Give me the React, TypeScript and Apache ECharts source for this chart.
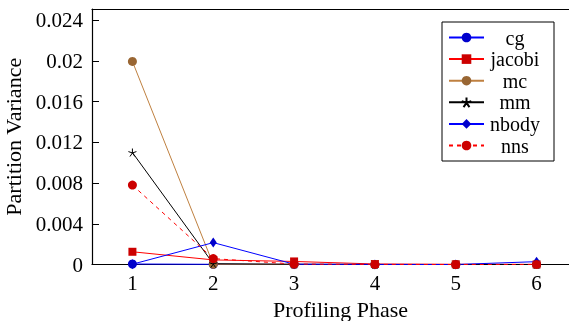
import React, { useEffect, useRef } from "react";
import * as echarts from "echarts";

const phases = ["1", "2", "3", "4", "5", "6"];
const seriesNames = ["cg", "jacobi", "mc", "mm", "nbody", "nns"];
const cg = [0.00005, 0.00002, 0.00001, 0, 0, 0];
const jacobi = [0.00125, 0.00045, 0.0003, 0.00005, 0.00002, 0.00001];
const mc = [0.01995, 0.00002, 0.00001, 0, 0, 0];
const mm = [0.011, 0.00008, 0.00002, 0, 0, 0];
const nbody = [0.00003, 0.00215, 0.00003, 0.00001, 0, 0.00028];
const nns = [0.0078, 0.00058, 0.00004, 0.00001, 0, 0.00001];

const FONT = "Liberation Serif";
const FS = 21;
const FL = 20;
const FT = 22;
const STAR = "path://M0 0L0 -10M0 0L9.51 -3.09M0 0L5.88 8.09M0 0L-5.88 8.09M0 0L-9.51 -3.09";

export default function App() {
  const ref = useRef<HTMLDivElement>(null);
  useEffect(() => {
    if (!ref.current) return;
    const chart = echarts.init(ref.current, null, { renderer: "svg" });
    const mk = (name: string, data: number[], line: string, mark: string, symbol: string, size: any, extra: any = {}) => ({
      name,
      type: "line",
      data,
      symbol,
      symbolSize: size,
      lineStyle: { color: line, width: 1, ...(extra.lineStyle || {}) },
      itemStyle: { color: mark, ...(extra.itemStyle || {}) },
      z: extra.z || 2,
    });
    chart.setOption({
      animation: false,
      textStyle: { fontFamily: FONT },
      grid: { left: 92, width: 485, top: 9, height: 255.5, outerBoundsMode: "none", containLabel: false },
      xAxis: [
        {
          type: "category",
          data: phases,
          boundaryGap: true,
          name: "Profiling Phase",
          nameLocation: "middle",
          nameGap: 35,
          nameTextStyle: { fontSize: FT, lineHeight: 20, color: "#000", fontFamily: FONT, padding: [0, 0, 0, 12] },
          axisLine: { lineStyle: { color: "#000", width: 1.2 } },
          axisTick: { inside: true, alignWithLabel: true, length: 7, lineStyle: { color: "#000" } },
          axisLabel: { fontSize: FS, color: "#000", fontFamily: FONT, margin: 8 },
          splitLine: { show: false },
        },
        {
          type: "category",
          data: phases,
          position: "top",
          boundaryGap: true,
          axisLine: { lineStyle: { color: "#000", width: 1.2 } },
          axisTick: { inside: true, alignWithLabel: true, length: 7, lineStyle: { color: "#000" } },
          axisLabel: { show: false },
          splitLine: { show: false },
        },
      ],
      yAxis: {
        type: "value",
        min: 0,
        max: 0.0251,
        interval: 0.004,
        name: "Partition Variance",
        nameLocation: "middle",
        nameGap: 56,
        nameTextStyle: { fontSize: FT, color: "#000", fontFamily: FONT },
        axisLine: { show: true, lineStyle: { color: "#000", width: 1.2 } },
        axisTick: { show: true, inside: true, length: 7, lineStyle: { color: "#000" } },
        axisLabel: { fontSize: FS, color: "#000", fontFamily: FONT, showMaxLabel: false, margin: 9 },
        splitLine: { show: false },
      },
      legend: {
        data: seriesNames,
        orient: "vertical",
        left: 442,
        top: 22,
        padding: [5.5, 13, 5.5, 6],
        itemGap: 1.6,
        itemWidth: 35,
        itemHeight: 12,
        borderColor: "#000",
        borderWidth: 1,
        backgroundColor: "#fff",
        formatter: "{a|{name}}",
        textStyle: {
          fontFamily: FONT,
          fontSize: FL,
          color: "#000",
          rich: { a: { width: 52, align: "center", fontSize: FL, lineHeight: 20, fontFamily: FONT, color: "#000" } },
        },
      },
      series: [
        mk("cg", cg, "#0000ff", "#0000cc", "circle", 9),
        mk("jacobi", jacobi, "#ff0000", "#cc0000", "rect", 8),
        mk("mc", mc, "#bf8040", "#996633", "circle", 9),
        mk("mm", mm, "#000000", "#000000", STAR, 8, { itemStyle: { borderColor: "#000", borderWidth: 1 } }),
        mk("nbody", nbody, "#0000ff", "#0000cc", "diamond", [7, 10]),
        mk("nns", nns, "#ff0000", "#cc0000", "circle", 9, { lineStyle: { type: [4, 4] } }),
      ],
    });
    return () => chart.dispose();
  }, []);
  return <div ref={ref} style={{ position: "fixed", left: 0, top: 0, width: 569, height: 321 }} />;
}
